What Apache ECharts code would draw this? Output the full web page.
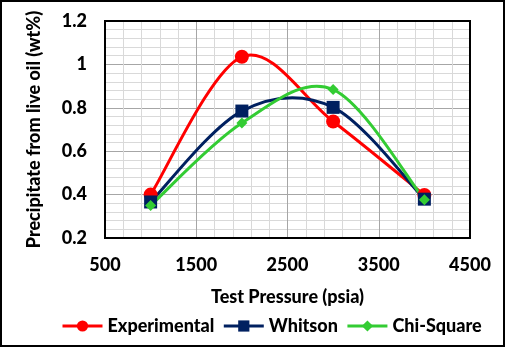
<!DOCTYPE html>
<html><head><meta charset="utf-8">
<script src="https://cdn.jsdelivr.net/npm/echarts@6/dist/echarts.min.js"></script>
<style>
html,body{margin:0;padding:0;background:#fff;}
#c{width:505px;height:347px;box-sizing:border-box;border:2px solid #000;}
</style></head><body>
<div id="c"></div>
<script>
const pressures = [1000, 2000, 3000, 4000];
const experimental = [0.40, 1.035, 0.737, 0.398];
const whitson = [0.366, 0.785, 0.802, 0.379];
const chiSquare = [0.350, 0.730, 0.884, 0.376];
const seriesNames = ['Experimental', 'Whitson', 'Chi-Square'];
const colors = ['#FF0000', '#002060', '#33CC33'];

const pair = (ys) => pressures.map((x, i) => [x, ys[i]]);
const FONT = 'Lato';
const chart = echarts.init(document.getElementById('c'), null, {renderer: 'canvas'});

// Excel-style smoothed curve: Bezier segments with Catmull-Rom control points (tension 1/6),
// positioned via the chart's own coordinate system.
function curveSeries(name, ys, color) {
  return {
    name: name + ' curve', type: 'custom', data: pair(ys), z: 1, silent: true,
    renderItem: (params, api) => {
      const i = params.dataIndex;
      if (i >= pressures.length - 1) return null;
      const P = pressures.map((x, k) => api.coord([x, ys[k]]));
      const p0 = P[Math.max(i - 1, 0)], p1 = P[i], p2 = P[i + 1], p3 = P[Math.min(i + 2, P.length - 1)];
      const c1 = [p1[0] + (p2[0] - p0[0]) / 6, p1[1] + (p2[1] - p0[1]) / 6];
      const c2 = [p2[0] - (p3[0] - p1[0]) / 6, p2[1] - (p3[1] - p1[1]) / 6];
      return {
        type: 'bezierCurve',
        shape: {x1: p1[0], y1: p1[1], x2: p2[0], y2: p2[1], cpx1: c1[0], cpy1: c1[1], cpx2: c2[0], cpy2: c2[1]},
        style: {stroke: color, lineWidth: 3, fill: null}
      };
    }
  };
}
const markerSeries = (name, ys, color, symbol, size) => ({
  name, type: 'line', data: pair(ys), smooth: false,
  symbol, symbolSize: size, showSymbol: true,
  lineStyle: {color, width: 3, opacity: 0},
  itemStyle: {color, opacity: 1},
  z: 3
});
const tf = {color: '#000', fontFamily: FONT, fontWeight: 900, fontSize: 18};
chart.setOption({
  animation: false,
  grid: {left: 103, right: 33, top: 19, bottom: 107, containLabel: false},
  xAxis: {
    type: 'value', min: 500, max: 4500, interval: 1000,
    axisLine: {show: false}, axisTick: {show: false},
    axisLabel: Object.assign({margin: 18, formatter: v => String(v)}, tf),
    splitLine: {show: true, lineStyle: {color: '#A6A6A6', width: 1}},
    minorTick: {show: false, splitNumber: 5},
    minorSplitLine: {show: true, lineStyle: {color: '#D9D9D9', width: 1}},
    name: 'Test Pressure (psia)', nameLocation: 'middle', nameGap: 50,
    nameTextStyle: tf
  },
  yAxis: {
    type: 'value', min: 0.2, max: 1.2, interval: 0.2,
    axisLine: {show: false}, axisTick: {show: false},
    axisLabel: Object.assign({margin: 18, formatter: v => String(+v.toFixed(1))}, tf),
    splitLine: {show: true, lineStyle: {color: '#A6A6A6', width: 1}},
    minorTick: {show: false, splitNumber: 5},
    minorSplitLine: {show: true, lineStyle: {color: '#D9D9D9', width: 1}},
    name: 'Precipitate from live oil (wt%)', nameLocation: 'middle', nameGap: 62,
    nameTextStyle: tf
  },
  legend: {
    bottom: 5, left: 54, itemWidth: 40, itemHeight: 14, itemGap: 8,
    textStyle: tf,
    data: seriesNames.map((n, i) => ({name: n, lineStyle: {opacity: 1, width: 3, color: colors[i]}}))
  },
  series: [
    curveSeries(seriesNames[0], experimental, colors[0]),
    curveSeries(seriesNames[1], whitson, colors[1]),
    curveSeries(seriesNames[2], chiSquare, colors[2]),
    markerSeries(seriesNames[0], experimental, colors[0], 'circle', 14),
    markerSeries(seriesNames[1], whitson, colors[1], 'rect', 13),
    markerSeries(seriesNames[2], chiSquare, colors[2], 'diamond', 11),
    {type: 'line', data: [], markArea: {silent: true, itemStyle: {color: 'transparent', borderColor: '#000', borderWidth: 2},
      data: [[{coord: [500, 0.2]}, {coord: [4500, 1.2]}]]}, z: 5}
  ]
});
</script></body></html>
